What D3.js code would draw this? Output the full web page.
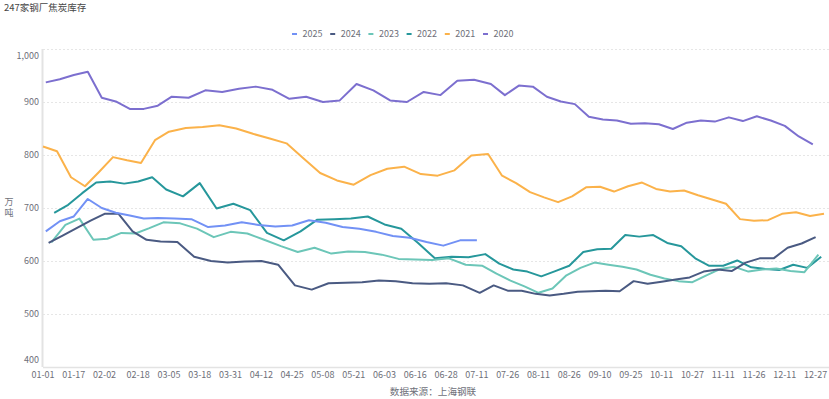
<!DOCTYPE html>
<html>
<head>
<meta charset="utf-8">
<script src="https://cdn.jsdelivr.net/npm/d3@7/dist/d3.min.js"></script>
<style>
    body { margin: 0; background: #fff; }
    svg text { font-family: "Noto Sans CJK SC", "Noto Sans", sans-serif; }
</style>
</head>
<body>
<svg id="chart" width="829" height="399"></svg>
<script>

// weekly (Friday) coke stocks, 10k tonnes
var years = [2025, 2024, 2023, 2022, 2021, 2020];
var colors = ["#7291f5", "#4a5a82", "#6cc6b8", "#26979b", "#fbb24a", "#7c6fcf"];

var v2025 = [656, 675, 684, 717, 700, 691, 686, 680, 681, 680, 679, 664, 667, 673, 668, 665, 667,
    677, 672, 664, 661, 655, 647, 644, 636, 629, 639, 639];
var v2024 = [634, 648, 662, 676, 689, 689, 656, 640, 637, 636, 608, 600, 597, 599, 600, 593, 554,
    546, 558, 559, 560, 563, 562, 558, 557, 558, 554, 540, 554, 544, 544, 538, 535, 538, 542,
    543, 544, 543, 562, 557, 561, 565, 569, 580, 584, 581, 597, 605, 605, 625, 633, 645];
var v2023 = [635, 668, 680, 640, 642, 653, 652, 662, 673, 671, 661, 645, 655, 652, 640, 628, 617,
    625, 614, 618, 617, 612, 604, 603, 602, 605, 593, 591, 576, 563, 552, 540, 548, 573,
    587, 597, 593, 589, 584, 574, 567, 562, 560, 573, 585, 589, 580, 584, 586, 581, 579, 612];
var v2022 = [691, 706, 728, 748, 750, 746, 750, 758, 735, 722, 747, 699, 708, 696, 653, 639, 656,
    678, 679, 680, 684, 669, 661, 634, 605, 608, 607, 613, 595, 584, 580, 571, 581, 591,
    617, 622, 623, 649, 646, 649, 634, 628, 605, 591, 591, 601, 588, 585, 583, 593, 587, 608];
var v2021 = [816, 807, 758, 741, 768, 796, 790, 785, 828, 844, 851, 853, 856, 850, 840, 831, 822,
    794, 766, 752, 744, 762, 774, 778, 764, 761, 771, 799, 802, 761, 747, 730, 720, 711, 722,
    739, 740, 731, 741, 748, 736, 731, 733, 724, 716, 708, 679, 676, 677, 689, 692, 685, 689];
var v2020 = [937, 943, 951, 957, 908, 901, 887, 887, 893, 910, 908, 922, 919, 925, 929, 923, 906,
    910, 900, 903, 934, 922, 903, 900, 919, 913, 940, 942, 934, 913, 931, 929, 910, 901, 896,
    872, 867, 865, 859, 860, 858, 849, 861, 865, 863, 871, 864, 873, 865, 855, 835, 820];

var tickLabels = ["01-01", "01-17", "02-02", "02-18", "03-05", "03-18", "03-31", "04-12", "04-25",
    "05-08", "05-21", "06-03", "06-16", "06-28", "07-11", "07-26", "08-11", "08-26", "09-10",
    "09-25", "10-11", "10-27", "11-11", "11-26", "12-11", "12-27"];
var yTicks = [400, 500, 600, 700, 800, 900, 1000];

var allValues = [v2025, v2024, v2023, v2022, v2021, v2020];

function drawChart() {
    var fmtDay = d3.timeFormat("%m-%d");

    // each year is reported every Friday; the x axis is the union of all month-day stamps
    var series = years.map(function(year, i) {
        var fridays = d3.timeFriday.range(new Date(year, 0, 1), new Date(year + 1, 0, 1));
        return {
            name: String(year),
            color: colors[i],
            points: allValues[i].map(function(v, j) { return { day: fmtDay(fridays[j]), value: v }; })
        };
    });

    var categories = Array.from(new Set(series.flatMap(function(s) {
        return s.points.map(function(p) { return p.day; });
    }))).sort();

    var svg = d3.select("#chart");
    var gLeft = 43, gRight = 824, gTop = 49, gBottom = 367;

    var x = d3.scalePoint().domain(categories).range([gLeft, gRight]);
    var y = d3.scaleLinear().domain([400, 1000]).range([gBottom, gTop]);

    // title
    svg.append("text")
        .attr("x", 4).attr("y", 11)
        .attr("font-size", 9.5).attr("fill", "#464646")
        .text("247家钢厂焦炭库存");

    // grid lines
    svg.append("g").selectAll("line")
        .data(yTicks.slice(1))
        .enter().append("line")
        .attr("x1", gLeft).attr("x2", 829)
        .attr("y1", function(d) { return Math.round(y(d)) + 0.5; })
        .attr("y2", function(d) { return Math.round(y(d)) + 0.5; })
        .attr("stroke", "#e6e6e6")
        .attr("stroke-dasharray", "2,2");

    // axis lines
    svg.append("line")
        .attr("x1", gLeft).attr("x2", 829)
        .attr("y1", gBottom + 0.5).attr("y2", gBottom + 0.5)
        .attr("stroke", "#e3e3e3").attr("stroke-width", 1.5);
    svg.append("line")
        .attr("x1", gLeft - 0.5).attr("x2", gLeft - 0.5)
        .attr("y1", gTop).attr("y2", gBottom)
        .attr("stroke", "#e3e3e3").attr("stroke-width", 2);

    // y labels; the end labels are pulled inside the axis
    svg.append("g").selectAll("text")
        .data(yTicks)
        .enter().append("text")
        .attr("x", 39)
        .attr("y", function(d) { return y(d) + (d === 1000 ? 7 : d === 400 ? -7 : 0); })
        .attr("dy", "0.35em")
        .attr("text-anchor", "end")
        .attr("font-size", 9).attr("fill", "#6e7079")
        .text(d3.format(","));

    // y axis name, written vertically
    svg.append("text")
        .attr("x", 9).attr("y", 208)
        .attr("writing-mode", "vertical-rl")
        .attr("text-anchor", "middle")
        .attr("letter-spacing", 1.5)
        .attr("font-size", 9).attr("fill", "#6e7079")
        .text("万吨");

    // x labels
    svg.append("g").selectAll("text")
        .data(tickLabels)
        .enter().append("text")
        .attr("x", function(d) { return x(d); })
        .attr("y", 375)
        .attr("dy", "0.35em")
        .attr("text-anchor", "middle")
        .attr("font-size", 9).attr("fill", "#6e7079")
        .text(function(d) { return d; });

    // source note
    svg.append("text")
        .attr("x", 433).attr("y", 392)
        .attr("dy", "0.35em")
        .attr("text-anchor", "middle")
        .attr("font-size", 9.6).attr("fill", "#6e7079")
        .text("数据来源：上海钢联");

    // lines, oldest drawn first
    var line = d3.line()
        .x(function(d) { return x(d.day); })
        .y(function(d) { return y(d.value); });

    svg.append("g").selectAll("path")
        .data(series.slice().reverse())
        .enter().append("path")
        .attr("d", function(d) { return line(d.points); })
        .attr("fill", "none")
        .attr("stroke", function(d) { return d.color; })
        .attr("stroke-width", 2)
        .attr("stroke-linejoin", "round");

    // legend
    var legend = svg.append("g").selectAll("g")
        .data(series)
        .enter().append("g")
        .attr("transform", function(d, i) { return "translate(" + (292 + i * 38.2) + ",34)"; });

    legend.append("line")
        .attr("x1", 0).attr("x2", 5)
        .attr("stroke", function(d) { return d.color; })
        .attr("stroke-width", 2);

    legend.append("text")
        .attr("x", 10.5)
        .attr("dy", "0.35em")
        .attr("font-size", 9).attr("fill", "#6e7079")
        .text(function(d) { return d.name; });
}

drawChart();

</script>
</body>
</html>
